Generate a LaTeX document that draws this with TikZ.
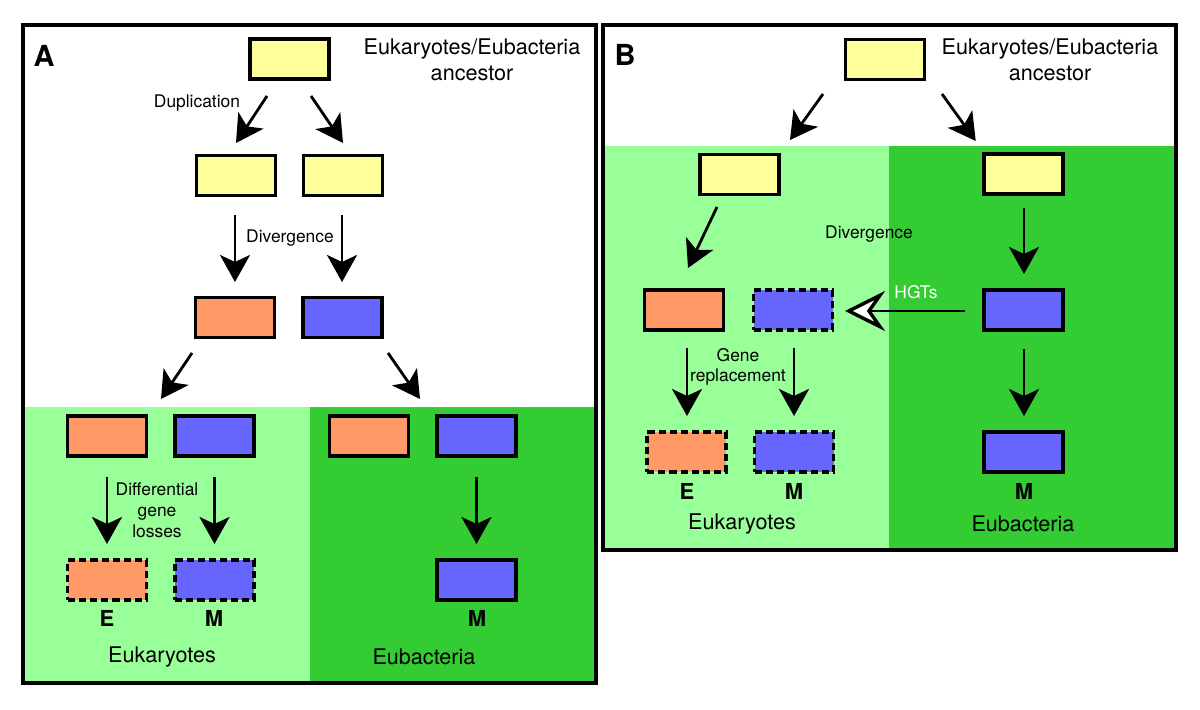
\documentclass[tikz,border=0pt]{standalone}
\usepackage{fontspec}
\setmainfont{TeX Gyre Heros}
\usetikzlibrary{arrows.meta,calc}
\definecolor{gyel}{HTML}{FFFF99}
\definecolor{gora}{HTML}{FF9966}
\definecolor{gblu}{HTML}{6666FF}
\definecolor{lgreen}{HTML}{99FF99}
\definecolor{dgreen}{HTML}{33CC33}
\begin{document}
\begin{tikzpicture}[x=0.5pt,y=-0.5pt,
  box/.style={draw=black, line width=1.8pt, minimum width=39.5pt, minimum height=20pt, inner sep=0pt, outer sep=0pt},
  dbox/.style={box, dash pattern=on 3.6pt off 2pt},
  arr/.style={line width=1.4pt, -{Stealth[length=13.5pt,width=15pt,inset=3.5pt]}},
  harr/.style={line width=1.4pt, -{Stealth[open,fill=white,length=20pt,width=20pt,inset=7pt,line width=1.7pt]}},
  region/.style={draw=none, inner sep=0pt, outer sep=0pt, anchor=north west},
  big/.style={font=\fontsize{10.8}{13}\selectfont, inner sep=0pt, align=center},
  small/.style={font=\fontsize{8.7}{10.5}\selectfont, inner sep=0pt, align=center},
  lab/.style={font=\fontsize{11}{13}\selectfont\bfseries, inner sep=0pt},
  panel/.style={font=\fontsize{14.5}{16}\selectfont\bfseries, inner sep=0pt},
  frame/.style={draw=black, line width=1.7pt}]

\useasboundingbox[fill=white] (0,0) rectangle (1200,710);

% ---------- regions ----------
\node[region, fill=lgreen, minimum width=143.5pt, minimum height=138pt] (AL) at (23,407) {};
\node[region, fill=dgreen, minimum width=143pt, minimum height=138pt] (AD) at (310,407) {};
\node[region, fill=lgreen, minimum width=143pt, minimum height=202pt] (BL) at (603,146) {};
\node[region, fill=dgreen, minimum width=143.5pt, minimum height=202pt] (BD) at (889,146) {};

\draw[frame] (23,25) rectangle (596,683);
\draw[frame] (603,25) rectangle (1176,550);

% ---------- panel A boxes ----------
\node[box, fill=gyel] (At) at (289.5,59) {};
\node[box, fill=gyel] (Ay1) at (236,175.5) {};
\node[box, fill=gyel] (Ay2) at (343,175.5) {};
\node[box, fill=gora] (Ao) at (235,317.5) {};
\node[box, fill=gblu] (Ab) at (342.5,317.5) {};
\node[box, fill=gora] (Ao1) at (107,436) {};
\node[box, fill=gblu] (Ab1) at (214.5,436) {};
\node[box, fill=gora] (Ao2) at (369,436) {};
\node[box, fill=gblu] (Ab2) at (476.5,436) {};
\node[dbox, fill=gora] (AoE) at (107,580) {};
\node[dbox, fill=gblu] (AbM) at (214.5,580) {};
\node[box, fill=gblu] (AbM2) at (476.5,580) {};

% ---------- panel A arrows ----------
\draw[arr] ($(At.south)+(-22.5,17)$) -- ($(Ay1.north)+(0,-12.5)$);
\draw[arr] ($(At.south)+(21.5,17)$) -- ($(Ay2.north)+(0,-12.5)$);
\draw[arr] ($(Ay1.south)+(-1,19.5)$) -- ($(Ao.north)+(0,-15.5)$);
\draw[arr] ($(Ay2.south)+(-1,19.5)$) -- ($(Ab.north)+(-0.5,-15.5)$);
\draw[arr] ($(Ao.south)+(-43,15.5)$) -- ($(AL.north)+(-5.5,-8)$);
\draw[arr] ($(Ab.south)+(45.5,15.5)$) -- ($(AD.north)+(-33,-8)$);
\draw[arr] ($(Ao1.south)+(0,21)$) -- ($(AoE.north)+(0,-16)$);
\draw[arr] ($(Ab1.south)+(0,21)$) -- ($(AbM.north)+(0,-16)$);
\draw[arr] ($(Ab2.south)+(0,21)$) -- ($(AbM2.north)+(0,-16)$);

% ---------- panel A text ----------
\node[panel] (lA) at (44,56) {A};
\node[big] (tA) at (472,60) {Eukaryotes/Eubacteria\\ancestor};
\node[small] (dupA) at (197,103) {Duplication};
\node[small] (divA) at (290,238) {Divergence};
\node[small] (dglA) at (157,510) {Differential\\gene\\losses};
\node[lab] (eA) at (107,618) {E};
\node[lab] (mA) at (214,618) {M};
\node[lab] (mA2) at (477,618) {M};
\node[big] (eukA) at (162,657) {Eukaryotes};
\node[big] (eubA) at (424,657) {Eubacteria};

% ---------- panel B boxes ----------
\node[box, fill=gyel] (Bt) at (885,59.5) {};
\node[box, fill=gyel] (By1) at (739.5,174.5) {};
\node[box, fill=gyel] (By2) at (1023.5,174) {};
\node[box, fill=gora] (Bo) at (684,310) {};
\node[dbox, fill=gblu] (Bbd) at (793,310) {};
\node[box, fill=gblu] (Bb) at (1023.5,310) {};
\node[dbox, fill=gora] (BoE) at (686.5,452) {};
\node[dbox, fill=gblu] (BbM) at (794,452) {};
\node[box, fill=gblu] (BbM2) at (1023.5,452) {};

% ---------- panel B arrows ----------
\draw[arr] ($(Bt.south)+(-62,14.5)$) -- ($(BL.north)+(44,-6)$);
\draw[arr] ($(Bt.south)+(57,14.5)$) -- ($(BD.north)+(-56.75,-5)$);
\draw[arr] ($(By1.south)+(-22.5,12.5)$) -- ($(Bo.north)+(4,-22)$);
\draw[arr] ($(By2.south)+(0.5,14)$) -- ($(Bb.north)+(0.5,-16)$);
\draw[harr] ($(Bb.west)+(-19,1)$) -- ($(Bbd.east)+(12.5,1)$);
\draw[arr] ($(Bo.south)+(3,18)$) -- ($(BoE.north)+(0.5,-16)$);
\draw[arr] ($(Bbd.south)+(1,18)$) -- ($(BbM.north)+(0,-16)$);
\draw[arr] ($(Bb.south)+(0.5,19)$) -- ($(BbM2.north)+(0.5,-16)$);

% ---------- panel B text ----------
\node[panel] (lB) at (625,55) {B};
\node[big] (tB) at (1050,60) {Eukaryotes/Eubacteria\\ancestor};
\node[small] (divB) at (869,234) {Divergence};
\node[small, text=white] (hgt) at (916,292) {HGTs};
\node[small, font=\fontsize{8.7}{10}\selectfont] (grB) at (738,367) {Gene\\replacement};
\node[lab] (eB) at (687,491) {E};
\node[lab] (mB) at (794,491) {M};
\node[lab] (mB2) at (1024,491) {M};
\node[big] (eukB) at (742,524) {Eukaryotes};
\node[big] (eubB) at (1023,524) {Eubacteria};
\end{tikzpicture}
\end{document}
